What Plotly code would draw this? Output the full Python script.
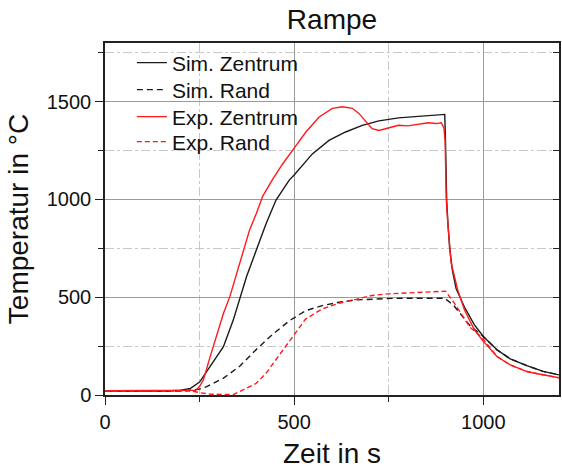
import plotly.graph_objects as go

# ---- data ----
sim_z_t = [0, 150, 200, 226, 250, 278, 313, 339, 356, 374, 400, 426, 452, 487, 500, 548, 592, 636, 680,
           724, 776, 840, 898, 900, 903, 907, 911, 918, 928, 950, 976, 1000, 1036, 1071, 1115, 1158, 1200]
sim_z_T = [20, 20, 24, 34, 66, 145, 247, 383, 485, 605, 741, 877, 997, 1099, 1125, 1233, 1302, 1345, 1379,
           1402, 1417, 1427, 1435, 1300, 1000, 860, 750, 640, 545, 450, 360, 299, 231, 185, 150, 121, 103]

sim_r_t = [0, 200, 250, 269, 313, 356, 400, 443, 487, 530, 574, 618, 661, 705, 760, 830, 898, 922, 965,
           996, 1036, 1071, 1115, 1158, 1200]
sim_r_T = [20, 20, 30, 43, 86, 147, 233, 310, 379, 431, 457, 474, 486, 491, 494, 495, 495, 457, 354,
           306, 231, 185, 150, 121, 103]

exp_z_t = [0, 150, 240, 250, 260, 278, 295, 313, 330, 348, 365, 382, 400, 417, 443, 469, 500, 531, 566,
           601, 627, 654, 671, 689, 706, 724, 741, 759, 776, 800, 825, 854, 875, 889, 896, 899, 902, 906,
           915, 932, 950, 976, 1000, 1036, 1071, 1090, 1115, 1140, 1158, 1180, 1200]
exp_z_T = [22, 22, 24, 43, 77, 196, 298, 417, 503, 622, 741, 843, 928, 1017, 1103, 1180, 1262, 1345, 1422,
           1466, 1474, 1466, 1440, 1397, 1362, 1353, 1362, 1371, 1379, 1376, 1385, 1392, 1388, 1392, 1365,
           1300, 1000, 881, 676, 539, 436, 334, 274, 197, 154, 140, 120, 110, 103, 92, 88]

exp_r_t = [0, 230, 250, 280, 339, 365, 400, 426, 452, 478, 500, 530, 574, 618, 661, 705, 748, 836, 900,
           922, 965, 996, 1036, 1071, 1090, 1115, 1140, 1158, 1180, 1200]
exp_r_T = [20, 20, 12, 4, 2, 26, 60, 112, 181, 250, 310, 388, 440, 469, 488, 509, 517, 526, 531,
           474, 346, 295, 197, 154, 140, 120, 110, 103, 92, 88]

labels = ["Sim. Zentrum", "Sim. Rand", "Exp. Zentrum", "Exp. Rand"]

FONT = "Liberation Sans, Arial, sans-serif"
TXT = "#111111"
BLACK = "#1a1a1a"
RED = "#ff1a1a"

fig = go.Figure()
fig.add_trace(go.Scatter(x=sim_z_t, y=sim_z_T, name=labels[0], mode="lines", legend="legend",
                         line=dict(color=BLACK, width=1.4)))
fig.add_trace(go.Scatter(x=sim_r_t, y=sim_r_T, name=labels[1], mode="lines", legend="legend2",
                         line=dict(color=BLACK, width=1.4, dash="6px,4px")))
fig.add_trace(go.Scatter(x=exp_z_t, y=exp_z_T, name=labels[2], mode="lines", legend="legend3",
                         line=dict(color=RED, width=1.4)))
fig.add_trace(go.Scatter(x=exp_r_t, y=exp_r_T, name=labels[3], mode="lines", legend="legend4",
                         line=dict(color=RED, width=1.4, dash="5px,3px")))
# helper trace for the right-hand inner tick axis
fig.add_trace(go.Scatter(x=[], y=[], yaxis="y2", showlegend=False, hoverinfo="skip"))

L0, PW, PT, PH = 105, 456, 43, 352


def leg(py):
    return dict(x=(132 - L0) / PW, y=(PT + PH - py) / PH, xanchor="left", yanchor="middle",
                bgcolor="rgba(0,0,0,0)", borderwidth=0,
                font=dict(size=21, family=FONT, color=TXT))


fig.update_layout(
    width=562, height=469,
    margin=dict(l=L0, r=562 - L0 - PW, t=PT, b=469 - PT - PH),
    paper_bgcolor="white", plot_bgcolor="white",
    font=dict(family=FONT, color=TXT),
    title=dict(text="Rampe", font=dict(size=28, family=FONT, color=TXT),
               x=0.5, xanchor="center", xref="paper",
               y=1 - 19 / 469, yanchor="middle", yref="container"),
    showlegend=True,
    legend=leg(63), legend2=leg(90), legend3=leg(117), legend4=leg(142),
    xaxis=dict(range=[0, 1200], dtick=500, tick0=0,
               showgrid=True, gridcolor="#9a9a9a", gridwidth=1,
               ticks="outside", ticklen=8, tickwidth=1.2, tickcolor="#222",
               showline=True, linecolor="#222", linewidth=1.5, mirror=True,
               tickfont=dict(size=20, family=FONT, color=TXT),
               minor=dict(dtick=250, showgrid=True, gridcolor="#c8c8c8", griddash="dashdot",
                          gridwidth=1, ticks="outside", ticklen=5, tickcolor="#222"),
               title=dict(text="Zeit in s", font=dict(size=28, family=FONT, color=TXT),
                          standoff=12),
               zeroline=False),
    yaxis=dict(range=[0, 1800], dtick=500, tick0=0,
               showgrid=True, gridcolor="#9a9a9a", gridwidth=1,
               ticks="outside", ticklen=8, tickwidth=1.2, tickcolor="#222",
               showline=True, linecolor="#222", linewidth=1.5, mirror=True,
               tickfont=dict(size=20, family=FONT, color=TXT),
               minor=dict(dtick=250, showgrid=True, gridcolor="#c8c8c8", griddash="dashdot",
                          gridwidth=1, ticks="outside", ticklen=5, tickcolor="#222"),
               title=dict(text="Temperatur in °C", font=dict(size=28, family=FONT, color=TXT),
                          standoff=10),
               zeroline=False),
    yaxis2=dict(range=[0, 1800], dtick=250, tick0=0, overlaying="y", side="right",
                showgrid=False, showticklabels=False, ticks="inside", ticklen=6,
                tickcolor="#222", zeroline=False, showline=False),
)

fig.write_html("out.html")
